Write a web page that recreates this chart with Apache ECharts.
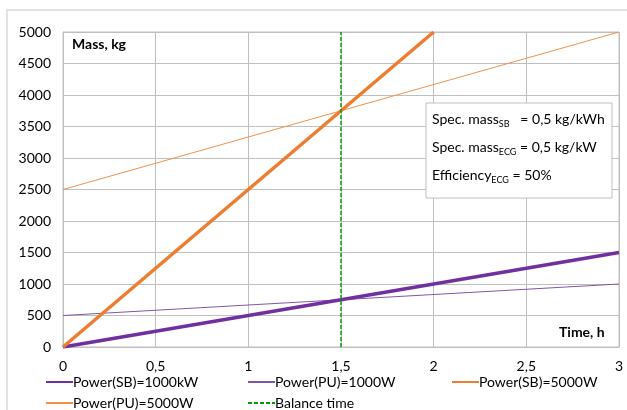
<!DOCTYPE html>
<html>
<head>
<meta charset="utf-8">
<script src="https://cdn.jsdelivr.net/npm/echarts@6/dist/echarts.min.js"></script>
<style>
  html,body{margin:0;padding:0;background:#fff;}
  #chart{width:627px;height:410px;}
</style>
</head>
<body>
<div id="chart"></div>
<script>
// time in hours, mass in kg
var sbSmall = [[0, 0], [3, 1500]];        // Power(SB)=1000kW
var puSmall = [[0, 500], [3, 1000]];      // Power(PU)=1000W
var sbLarge = [[0, 0], [2, 5000]];        // Power(SB)=5000W
var puLarge = [[0, 2500], [3, 5000]];     // Power(PU)=5000W
var balance = [[1.5, 0], [1.5, 5000]];    // Balance time
var names = ['Power(SB)=1000kW', 'Power(PU)=1000W', 'Power(SB)=5000W', 'Power(PU)=5000W', 'Balance time'];

var font = 'Lato, "Open Sans", sans-serif';
var chart = echarts.init(document.getElementById('chart'));

function legendAt(name, left, top){
    return {
        data: [name], left: left, top: top,
        itemWidth: 27, itemHeight: 10, itemGap: 0,
        itemStyle: {opacity: 0},
        textStyle: {fontFamily: font, fontSize: 14, color: '#000', padding: [0, 0, 0, -5]}
    };
}

chart.setOption({
    animation: false,
    textStyle: {fontFamily: font},
    grid: {left: 63, right: 8, top: 32, bottom: 63, show: true, borderColor: '#BFBFBF', borderWidth: 1},
    legend: [
        legendAt(names[0], 40, 370),
        legendAt(names[1], 242, 370),
        legendAt(names[2], 446, 370),
        legendAt(names[3], 40, 391),
        legendAt(names[4], 242, 391)
    ],
    xAxis: {
        type: 'value', min: 0, max: 3, interval: 0.5,
        axisLine: {lineStyle: {color: '#BFBFBF'}},
        axisTick: {show: false},
        splitLine: {lineStyle: {color: '#BFBFBF'}},
        axisLabel: {color: '#000', fontSize: 14, margin: 12,
            formatter: function(v){ return String(v).replace('.', ','); }}
    },
    yAxis: {
        type: 'value', min: 0, max: 5000, interval: 500,
        axisLine: {show: true, lineStyle: {color: '#BFBFBF'}},
        axisTick: {show: false},
        splitLine: {lineStyle: {color: '#BFBFBF'}},
        axisLabel: {color: '#000', fontSize: 14, margin: 12,
            formatter: function(v){ return String(v); }}
    },
    series: [
        {name: names[0], type: 'line', data: sbSmall, symbol: 'none', z: 3,
            lineStyle: {color: '#7030A0', width: 3.5}, itemStyle: {color: '#7030A0'}},
        {name: names[1], type: 'line', data: puSmall, symbol: 'none', z: 2,
            lineStyle: {color: '#7E57A8', width: 1}, itemStyle: {color: '#7E57A8'}},
        {name: names[2], type: 'line', data: sbLarge, symbol: 'none', z: 4,
            lineStyle: {color: '#ED7D31', width: 3.5}, itemStyle: {color: '#ED7D31'}},
        {name: names[3], type: 'line', data: puLarge, symbol: 'none', z: 2,
            lineStyle: {color: '#F0914A', width: 1}, itemStyle: {color: '#F0914A'}},
        {name: names[4], type: 'line', data: balance, symbol: 'none', z: 5,
            lineStyle: {color: '#00A000', width: 1.5, type: [4, 2]}, itemStyle: {color: '#00A000'}}
    ],
    graphic: [
        {type: 'rect', shape: {x: 7, y: 10, width: 640, height: 420}, z: -10,
            style: {fill: 'none', stroke: '#D9D9D9', lineWidth: 1.5}},
        {type: 'text', left: 72, top: 37, z: 10,
            style: {text: 'Mass, kg', font: 'bold 14px ' + font, fill: '#000'}},
        {type: 'text', left: 559, top: 325, z: 10,
            style: {text: 'Time, h', font: 'bold 14px ' + font, fill: '#000'}},
        {type: 'rect', shape: {x: 426, y: 103, width: 186, height: 95}, z: 10,
            style: {fill: '#fff', stroke: '#BFBFBF', lineWidth: 1}},
        {type: 'text', left: 432, top: 112, z: 11,
            style: {
                text: '{a|Spec. mass}{s|SB}{a|   = 0,5 kg/kWh}\n{a|Spec. mass}{s|ECG}{a| = 0,5 kg/kW}\n{a|Efficiency}{s|ECG}{a| = 50%}',
                rich: {
                    a: {fontFamily: font, fontSize: 14, color: '#000', lineHeight: 28, verticalAlign: 'bottom'},
                    s: {fontFamily: font, fontSize: 9, color: '#000', lineHeight: 28, verticalAlign: 'bottom', padding: [0, 0, -3, 0]}
                }
            }}
    ]
});
</script>
</body>
</html>
